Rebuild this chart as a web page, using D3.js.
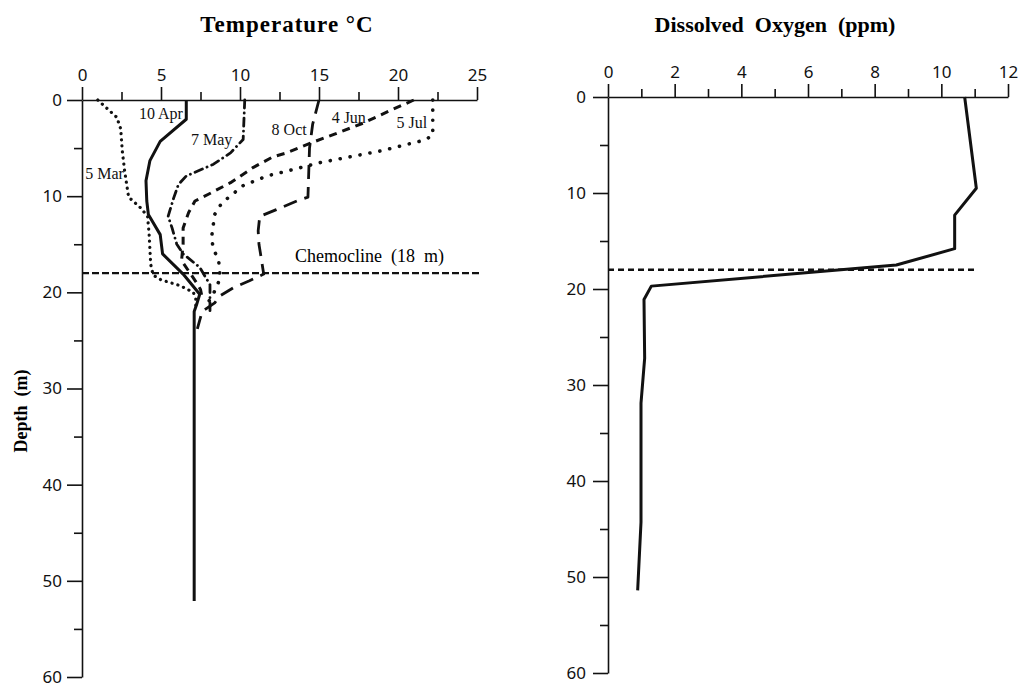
<!DOCTYPE html>
<html>
<head>
<meta charset="utf-8">
<script src="https://cdn.jsdelivr.net/npm/d3@7"></script>
<style>
  body { margin: 0; background: #fff; }
  svg { display: block; }
  .tick text { font-family: "Noto Sans", "Liberation Sans", sans-serif; font-size: 17px; fill: #111; }
</style>
</head>
<body>
<svg id="chart" width="1020" height="687"></svg>
<script>
// ---------------- DATA ----------------
// Temperature profiles: [temperature °C, depth m]
const tempMar5 = [[1.0,0],[2.2,1.8],[2.45,3],[2.55,5.3],[2.7,7.4],[2.95,10.1],[3.7,11.2],[4.15,12.1],[4.25,14],[4.35,17.1],[4.5,18.2],[5.0,18.7],[6.2,19.3],[7.05,20],[7.2,20.7],[7.2,21.5]];
const tempApr10 = [[6.6,0],[6.6,2.0],[4.95,4.3],[4.3,6.3],[4.05,8.4],[4.1,10.5],[4.2,11.9],[4.95,14],[5.1,16],[6.4,18.1],[7.45,20.2],[7.25,21.3],[7.1,22],[7.1,52.1]];
const tempMay7 = [[10.3,0],[10.2,4.1],[9.4,5.5],[8.3,6.7],[6.6,7.9],[6.1,8.8],[5.8,10.2],[5.45,12.1],[5.7,13.3],[6.0,15],[6.4,16],[7.45,17.4],[8.1,19.2],[8.1,20.9],[8.1,22.1]];
const tempJun4 = [[21.0,0],[19.5,1.1],[17.8,2.4],[15.9,3.6],[14.6,4.4],[12.95,5.5],[12.1,5.9],[10.85,7.0],[9.4,8.6],[8.0,9.8],[7.15,10.5],[6.75,11.7],[6.4,13.3],[6.4,15],[6.3,16.7],[7.25,19],[7.5,19.7],[7.6,20.5]];
const tempJul5 = [[22.2,0],[22.2,3.7],[21.6,4.2],[18.9,5.3],[15.1,6.5],[12.95,7.4],[11.7,7.9],[10.2,8.9],[8.85,10.7],[8.4,11.9],[8.2,14.3],[8.3,15.4],[8.65,16.7],[8.75,18.5],[8.5,19.5],[8.3,20.2],[8.0,21]];
const tempOct8 = [[15.0,0],[14.6,2.5],[14.4,5],[14.3,10.1],[13.6,10.5],[12.3,11.4],[11.25,12.1],[11.15,13.6],[11.2,15],[11.3,16],[11.5,18.1],[10.6,18.8],[9.6,19.5],[8.7,20.4],[8.4,21.1],[7.6,22],[7.3,23.8]];
const seriesNames = ["5 Mar","10 Apr","7 May","4 Jun","5 Jul","8 Oct"];
// label anchor positions: [temperature, depth]
const labelPos = [[0.2,8.2],[3.6,2.0],[6.9,4.7],[15.8,2.4],[19.9,2.9],[12.0,3.6]];

// Dissolved oxygen profile: [ppm, depth m]
const oxygen = [[10.7,0],[11.05,9.5],[10.4,12.3],[10.4,15.8],[8.65,17.5],[1.3,19.7],[1.08,21.1],[1.1,27.2],[0.99,31.9],[0.99,44.3],[0.89,51.4]];

const chemoclineDepth = 18;
const tempTicks = [0,5,10,15,20,25];
const tempMinor = [2.5,7.5,12.5,17.5,22.5];
const oxyTicks = [0,2,4,6,8,10,12];
const oxyMinor = [1,3,5,7,9,11];
const depthTicks = [0,10,20,30,40,50,60];
const depthMinor = [5,15,25,35,45,55];

// ---------------- DRAW ----------------
const svg = d3.select("#chart");
const serif = '"Liberation Serif", "Times New Roman", serif';

const xT = d3.scaleLinear().domain([0,25]).range([82,477]);
const yL = d3.scaleLinear().domain([0,60]).range([100,677]);
const xO = d3.scaleLinear().domain([0,12]).range([608,1008]);
const yR = d3.scaleLinear().domain([0,60]).range([97,673]);

function drawAxes(x, y, ticks, minor, yLabelPad) {
  svg.append("g").attr("transform", `translate(0,${y(0)})`)
    .call(d3.axisTop(x).tickValues(ticks).tickSize(13).tickSizeOuter(0).tickPadding(6).tickFormat(d3.format("d")));
  const gxm = svg.append("g").attr("transform", `translate(0,${y(0)})`)
    .call(d3.axisTop(x).tickValues(minor).tickSize(8).tickFormat(""));
  gxm.select(".domain").remove();
  svg.append("g").attr("transform", `translate(${x(0)},0)`)
    .call(d3.axisLeft(y).tickValues(depthTicks).tickSize(15).tickSizeOuter(0).tickPadding(yLabelPad).tickFormat(d3.format("d")));
  const gym = svg.append("g").attr("transform", `translate(${x(0)},0)`)
    .call(d3.axisLeft(y).tickValues(depthMinor).tickSize(8).tickFormat(""));
  gym.select(".domain").remove();
  svg.selectAll(".domain, .tick line").attr("stroke", "#111").attr("stroke-width", 1.6);
}
drawAxes(xT, yL, tempTicks, tempMinor, 5);
drawAxes(xO, yR, oxyTicks, oxyMinor, 7);

// Titles
svg.append("text").attr("x", 287).attr("y", 32).attr("text-anchor", "middle")
  .attr("font-family", serif).attr("font-weight", "bold").attr("font-size", 23)
  .attr("letter-spacing", 1).text("Temperature °C");
svg.append("text").attr("x", 775).attr("y", 32).attr("text-anchor", "middle")
  .attr("font-family", serif).attr("font-weight", "bold").attr("font-size", 22)
  .style("white-space", "pre").text("Dissolved  Oxygen  (ppm)");
svg.append("text").attr("transform", "translate(27,411) rotate(-90)").attr("text-anchor", "middle")
  .attr("font-family", serif).attr("font-weight", "bold").attr("font-size", 18)
  .style("white-space", "pre").text("Depth  (m)");

// Chemocline lines
svg.append("line").attr("x1", xT(0)).attr("x2", xT(25.2)).attr("y1", yL(chemoclineDepth)).attr("y2", yL(chemoclineDepth))
  .attr("stroke", "#111").attr("stroke-width", 2.4).attr("stroke-dasharray", "7,3");
svg.append("line").attr("x1", xO(0)).attr("x2", xO(11.0)).attr("y1", yR(chemoclineDepth)).attr("y2", yR(chemoclineDepth))
  .attr("stroke", "#111").attr("stroke-width", 2.4).attr("stroke-dasharray", "6,4");
svg.append("text").attr("x", 295).attr("y", 262).attr("font-family", serif).attr("font-size", 18)
  .style("white-space", "pre").text("Chemocline  (18  m)");

// Temperature series
const lineT = d3.line().x(d => xT(d[0])).y(d => yL(d[1]));
const seriesData = [tempMar5, tempApr10, tempMay7, tempJun4, tempJul5, tempOct8];
const styles = [
  {w: 3.2, dash: "0.1,6", cap: "round"},
  {w: 3, dash: null, cap: "butt"},
  {w: 2.8, dash: "8,5,0.1,5", cap: "round"},
  {w: 3, dash: "8,6", cap: "butt"},
  {w: 3.6, dash: "0.1,10", cap: "round"},
  {w: 2.8, dash: "14,8", cap: "butt"}
];
seriesData.forEach((s, i) => {
  const p = svg.append("path").datum(s).attr("d", lineT)
    .attr("fill", "none").attr("stroke", "#111")
    .attr("stroke-width", styles[i].w).attr("stroke-linecap", styles[i].cap)
    .attr("stroke-linejoin", "round");
  if (styles[i].dash) p.attr("stroke-dasharray", styles[i].dash);
});

// Series labels
svg.selectAll(".slabel").data(seriesNames).enter().append("text")
  .attr("class", "slabel")
  .attr("x", (d, i) => xT(labelPos[i][0]))
  .attr("y", (d, i) => yL(labelPos[i][1]))
  .attr("font-family", serif).attr("font-size", 16).attr("fill", "#111")
  .text(d => d);

// Oxygen series
const lineO = d3.line().x(d => xO(d[0])).y(d => yR(d[1]));
svg.append("path").datum(oxygen).attr("d", lineO)
  .attr("fill", "none").attr("stroke", "#111").attr("stroke-width", 3).attr("stroke-linejoin", "round");
</script>
</body>
</html>
